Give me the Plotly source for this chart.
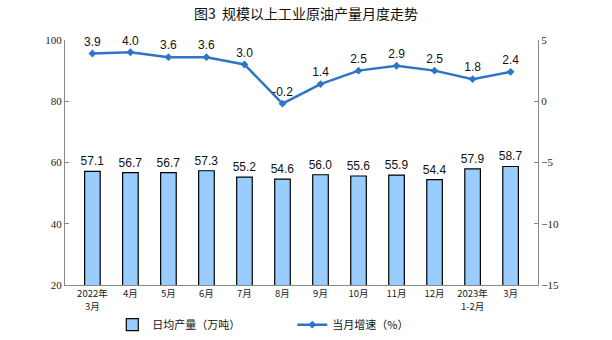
import plotly.graph_objects as go

categories = ["2022年<br>3月", "4月", "5月", "6月", "7月", "8月", "9月", "10月", "11月", "12月", "2023年<br>1-2月", "3月"]
daily_output = [57.1, 56.7, 56.7, 57.3, 55.2, 54.6, 56.0, 55.6, 55.9, 54.4, 57.9, 58.7]
growth = [3.9, 4.0, 3.6, 3.6, 3.0, -0.2, 1.4, 2.5, 2.9, 2.5, 1.8, 2.4]
left_ticks = [20, 40, 60, 80, 100]
right_ticks = [-15, -10, -5, 0, 5]

fig = go.Figure()
fig.add_trace(go.Bar(
    x=categories, y=daily_output, name="日均产量（万吨）",
    marker=dict(color="#99CCFF", line=dict(color="#000000", width=1.2)),
    width=0.41,
    text=[f"{v:.1f}" for v in daily_output], textposition="outside",
    constraintext="none",
    textfont=dict(family="Liberation Sans, Arial", size=12, color="#111"),
    cliponaxis=False,
))
fig.add_trace(go.Scatter(
    x=categories, y=growth, name="当月增速（%）", yaxis="y2",
    mode="lines+markers+text",
    line=dict(color="#2E75C6", width=2.5),
    marker=dict(symbol="diamond", size=6, color="#2E75C6"),
    text=[f"{v:.1f}" for v in growth], textposition="top center",
    textfont=dict(family="Liberation Sans, Arial", size=12, color="#111"),
    cliponaxis=False,
))

fig.update_layout(
    width=612, height=340,
    margin=dict(l=65, r=74, t=40, b=55, autoexpand=False),
    plot_bgcolor="white", paper_bgcolor="white",
    title=dict(text="图3  规模以上工业原油产量月度走势", x=0.5, xanchor="center", y=0.96, yanchor="middle",
               font=dict(family="Noto Sans CJK SC", size=14, color="#111")),
    showlegend=True,
    legend=dict(orientation="h", x=0.1, xanchor="left", yref="container", y=0.045, yanchor="middle",
                font=dict(family="Noto Sans CJK SC", size=11, color="#111"),
                entrywidth=135, itemwidth=30),
    bargap=0.5,
    xaxis=dict(showline=True, linecolor="#888", linewidth=1, showgrid=False, automargin=False,
               ticks="", tickfont=dict(family="Noto Sans CJK SC", size=9.5, color="#222")),
    yaxis=dict(range=[20, 100], tickvals=left_ticks, showline=True, linecolor="#888", linewidth=1,
               showgrid=False, zeroline=False, ticks="inside", ticklen=4, tickcolor="#888", automargin=False,
               tickfont=dict(family="Liberation Serif, Times New Roman", size=11, color="#222")),
    yaxis2=dict(range=[-15, 5], tickvals=right_ticks, overlaying="y", side="right",
                showline=True, linecolor="#888", linewidth=1, showgrid=False, zeroline=False,
                ticks="inside", ticklen=4, tickcolor="#888", automargin=False,
                tickfont=dict(family="Liberation Serif, Times New Roman", size=11, color="#222")),
)

fig.write_html("out.html")
